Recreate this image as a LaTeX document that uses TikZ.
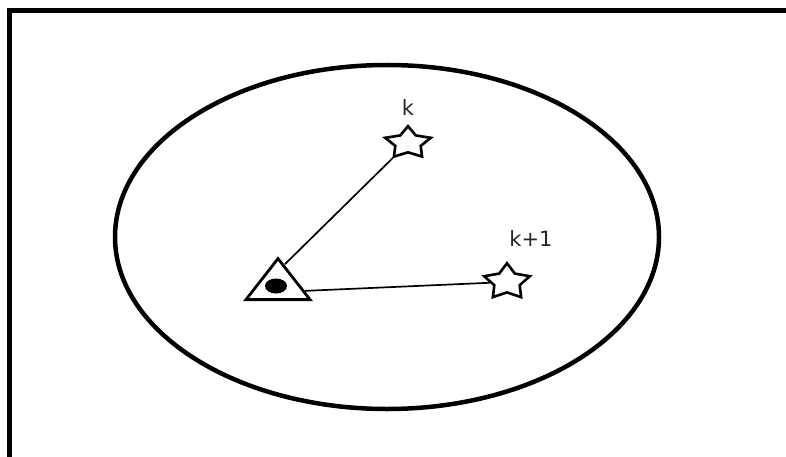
\documentclass[tikz,border=0pt]{standalone}
\usepackage{fontspec}
\setmainfont{Carlito}
\newfontfamily\tagfont{DejaVu Sans}
\usetikzlibrary{shapes.geometric,positioning,calc}
\tikzset{target/.style={draw,star,star points=5,star point ratio=1.8,minimum size=48pt,inner sep=0pt,line width=2.6pt,line join=miter},station/.style={draw,isosceles triangle,shape border rotate=90,isosceles triangle stretches,minimum width=64pt,minimum height=41pt,inner sep=0pt,line width=2.8pt,line join=miter},eyedot/.style={fill=black,ellipse,minimum width=22pt,minimum height=15pt,inner sep=0pt},link/.style={line width=1.7pt},tag/.style={font=\tagfont\fontsize{21}{24}\selectfont,text=black!85,inner sep=1pt}}

\begin{document}
\begin{tikzpicture}[x=1pt,y=-1pt]
\useasboundingbox (0,0) rectangle (786,457);
\draw[line width=5pt] (9,457) -- (9,11) -- (786,11);
\draw[line width=4.5pt] (387,237) ellipse (272pt and 172pt);
\node[station,anchor=lower side] (tri) at (278,301) {};
\node[eyedot] (eye) at (276,286) {};
\node[target,yscale=0.7] (k) at (408,143) {};
\node[target,yscale=0.78] (k1) at (507,282) {};
\node[tag,above=8pt of k] (klbl) {k};
\node[tag,above=14pt of k1,xshift=24pt] (k1lbl) {k+1};
\draw[link]($(tri.apex)!0.2!(tri.right corner)$)--(k);\draw[link]($(tri.apex)!0.78!(tri.right corner)$)--(k1);
\end{tikzpicture}
\end{document}
